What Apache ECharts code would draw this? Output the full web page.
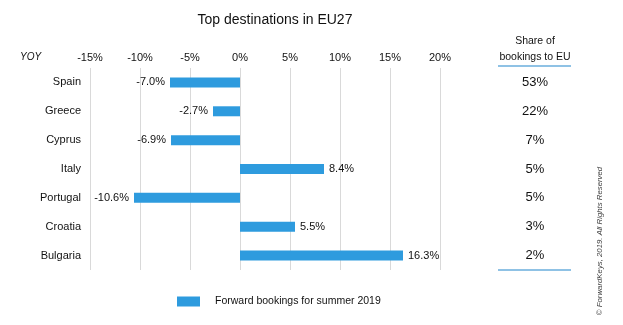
<!DOCTYPE html>
<html>
<head>
<meta charset="utf-8">
<script src="https://cdn.jsdelivr.net/npm/echarts@6/dist/echarts.min.js"></script>
<style>
  html, body { margin: 0; padding: 0; background: #fff; }
  #chart { width: 623px; height: 325px; }
</style>
</head>
<body>
<div id="chart"></div>
<script>
// Destinations, year-on-year change in forward bookings, share of bookings
const countries = ['Spain', 'Greece', 'Cyprus', 'Italy', 'Portugal', 'Croatia', 'Bulgaria'];
const yoyChange = [-7.0, -2.7, -6.9, 8.4, -10.6, 5.5, 16.3];
const shareOfBookings = [53, 22, 7, 5, 5, 3, 2];
const seriesName = 'Forward bookings for summer 2019';

const FONT = '"Liberation Sans", Arial, sans-serif';
const BLUE = '#2E9BDE';
const INK = '#111';

const chart = echarts.init(document.getElementById('chart'), null, { renderer: 'canvas' });

const barData = yoyChange.map(v => ({
  value: v,
  label: { position: v < 0 ? 'left' : 'right' }
}));

chart.setOption({
  animation: false,
  textStyle: { fontFamily: FONT },
  title: {
    text: 'Top destinations in EU27',
    left: 270, top: 8, textAlign: 'center',
    textStyle: { fontFamily: FONT, fontSize: 14, fontWeight: 'normal', color: INK }
  },
  legend: {
    data: [seriesName],
    left: 172, top: 291,
    itemWidth: 23, itemHeight: 10, itemGap: 10,
    icon: 'rect',
    textStyle: { fontFamily: FONT, fontSize: 10.5, color: INK, padding: [0, 0, 0, 10] }
  },
  grid: { left: 90, right: 183, top: 68, bottom: 55, containLabel: false },
  xAxis: {
    type: 'value',
    position: 'top',
    min: -15, max: 20, interval: 5,
    axisLine: { show: false },
    axisTick: { show: false },
    axisLabel: {
      margin: 5,
      fontFamily: FONT, fontSize: 11, color: INK,
      formatter: v => v + '%'
    },
    splitLine: { show: true, lineStyle: { color: '#d9d9d9', width: 1 } }
  },
  yAxis: [
    {
      type: 'category',
      data: countries,
      inverse: true,
      axisLine: { show: false },
      axisTick: { show: false },
      axisLabel: { margin: 9, fontFamily: FONT, fontSize: 11, color: INK }
    },
    {
      type: 'category',
      data: countries,
      inverse: true,
      position: 'right',
      axisLine: { show: false },
      axisTick: { show: false },
      axisLabel: {
        margin: 95, align: 'center',
        fontFamily: FONT, fontSize: 13, color: INK,
        formatter: (v, i) => shareOfBookings[i] + '%'
      }
    }
  ],
  series: [{
    name: seriesName,
    type: 'bar',
    data: barData,
    barWidth: 10,
    itemStyle: { color: BLUE },
    label: {
      show: true,
      distance: 5,
      fontFamily: FONT, fontSize: 11, color: INK,
      formatter: p => p.value.toFixed(1) + '%'
    }
  }],
  graphic: [
    {
      type: 'text', left: 20, top: 52,
      style: { text: 'YOY', font: 'italic 10px ' + FONT, fill: INK }
    },
    {
      type: 'text', x: 535, y: 33,
      style: {
        text: 'Share of\nbookings to EU', align: 'center',
        font: '10.5px ' + FONT, fill: INK, lineHeight: 16
      }
    },
    {
      type: 'line', shape: { x1: 498, y1: 66, x2: 571, y2: 66 },
      style: { stroke: '#6AAEDC', lineWidth: 1.5 }
    },
    {
      type: 'line', shape: { x1: 498, y1: 270, x2: 571, y2: 270 },
      style: { stroke: '#6AAEDC', lineWidth: 1.5 }
    },
    {
      type: 'text', x: 600, y: 241, rotation: Math.PI / 2,
      style: {
        text: '© ForwardKeys, 2019. All Rights Reserved',
        align: 'center', verticalAlign: 'middle',
        font: 'italic 7.8px ' + FONT, fill: '#444'
      }
    }
  ]
});
</script>
</body>
</html>
